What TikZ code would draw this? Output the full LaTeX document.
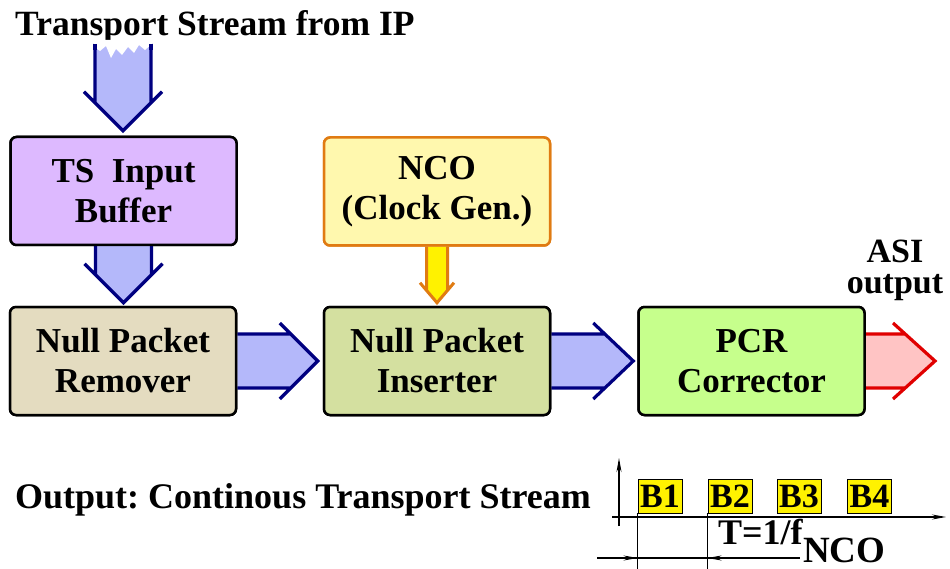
\documentclass[tikz,border=0pt]{standalone}
\usepackage{fontspec}
\setmainfont{Liberation Serif}
\usetikzlibrary{calc,arrows.meta}
\definecolor{navy}{HTML}{000080}
\definecolor{blfill}{HTML}{B4B8FA}
\definecolor{tsfill}{HTML}{DDB9FF}
\definecolor{remfill}{HTML}{E4DCC0}
\definecolor{ncofill}{HTML}{FFF8AE}
\definecolor{ncodraw}{HTML}{E07B12}
\definecolor{insfill}{HTML}{D4E0A0}
\definecolor{pcrfill}{HTML}{C6FF8C}
\definecolor{redfill}{HTML}{FFC4C4}
\definecolor{reddraw}{HTML}{E00000}
\newcommand\hfat[8]{%
  \path[fill=#6] let \p1=(#1), \p2=(#2), \n1={#5*#3/#4} in
    (\x1,{\y1+#3*1pt}) -- ({\x2-\n1*1pt},{\y1+#3*1pt}) -- (\x2,\y1) -- ({\x2-\n1*1pt},{\y1-#3*1pt}) -- (\x1,{\y1-#3*1pt}) -- cycle;
  \draw[draw=#7, line width=#8, line join=miter] let \p1=(#1), \p2=(#2), \n1={#5*#3/#4} in
    (\x1,{\y1+#3*1pt}) -- ({\x2-\n1*1pt},{\y1+#3*1pt})
    (\x1,{\y1-#3*1pt}) -- ({\x2-\n1*1pt},{\y1-#3*1pt})
    ({\x2-#5*1pt},{\y1+#4*1pt}) -- (\x2,\y1) -- ({\x2-#5*1pt},{\y1-#4*1pt});
}
\newcommand\vfat[8]{%
  \path[fill=#6] let \p1=(#1), \p2=(#2), \n1={#5*#3/#4} in
    ({\x1-#3*1pt},\y1) -- ({\x1-#3*1pt},{\y2+\n1*1pt}) -- (\x1,\y2) -- ({\x1+#3*1pt},{\y2+\n1*1pt}) -- ({\x1+#3*1pt},\y1) -- cycle;
  \draw[draw=#7, line width=#8, line join=miter] let \p1=(#1), \p2=(#2), \n1={#5*#3/#4} in
    ({\x1-#3*1pt},\y1) -- ({\x1-#3*1pt},{\y2+\n1*1pt})
    ({\x1+#3*1pt},\y1) -- ({\x1+#3*1pt},{\y2+\n1*1pt})
    ({\x1-#4*1pt},{\y2+#5*1pt}) -- (\x1,\y2) -- ({\x1+#4*1pt},{\y2+#5*1pt});
}
\begin{document}
\begin{tikzpicture}[x=1pt,y=-1pt,
  blk/.style={draw, line width=2.5pt, rounded corners=6pt, minimum width=226pt, minimum height=108pt,
    align=center, font=\fontsize{35}{40}\selectfont\bfseries, inner sep=0pt},
  lbl/.style={font=\fontsize{35.5}{40}\selectfont\bfseries, inner sep=0pt},
  bbox/.style={draw=black, line width=0.9pt, fill=yellow, minimum width=44pt, minimum height=34pt,
    inner sep=0pt, font=\fontsize{34}{36}\selectfont\bfseries},
  thin/.style={line width=1.1pt},
  tip/.style={-{Stealth[length=14pt,width=5pt]}}]
\useasboundingbox (0,0) rectangle (950,569);
\fill[white] (0,0) rectangle (950,569);

% box positions
\path (123.5,191) node[blk, fill=tsfill] (tsb) {TS\ \ Input\\Buffer};
\path (123,361) node[blk, fill=remfill] (rem) {Null Packet\\Remover};
\path (437,191.5) node[blk, fill=ncofill, draw=ncodraw] (nco) {NCO\\(Clock Gen.)};
\path (437,361) node[blk, fill=insfill] (ins) {Null Packet\\Inserter};
\path (751.5,361) node[blk, fill=pcrfill] (pcr) {PCR\\Corrector};

% title
\node[lbl, anchor=base west] (title) at (15,36) {Transport Stream from IP};
\coordinate (tsin) at (123,44);
\coordinate (asiout) at (935,361);

% block arrows
\vfat{tsin}{$(tsb.north)+(0,-5)$}{28}{39}{39}{blfill}{navy}{3.2pt}
\fill[white] (94,40) -- (94,47) -- (100,51) -- (106,46) -- (111,58) -- (116,49) -- (122,55) -- (128,47) -- (134,53) -- (139,45) -- (145,50) -- (152,44) -- (152,40) -- cycle;
\draw[navy, line width=3.2pt] (95,44) -- (95,50) (151,44) -- (151,50);
\vfat{tsb.south}{$(rem.north)+(0,-3)$}{28}{39}{39}{blfill}{navy}{3.2pt}
\vfat{nco.south}{$(ins.north)+(0,-3)$}{10.5}{17}{20}{yellow}{ncodraw}{3pt}
\hfat{rem.east}{$(ins.west)+(-5,0)$}{27}{38}{38}{blfill}{navy}{3.2pt}
\hfat{ins.east}{$(pcr.west)+(-4,0)$}{27}{38}{40}{blfill}{navy}{3.2pt}
\hfat{pcr.east}{asiout}{27}{38}{42}{redfill}{reddraw}{3.2pt}

% redraw boxes on top
\path (123.5,191) node[blk, fill=tsfill] {TS\ \ Input\\Buffer};
\path (123,361) node[blk, fill=remfill] {Null Packet\\Remover};
\path (437,191.5) node[blk, fill=ncofill, draw=ncodraw] {NCO\\(Clock Gen.)};
\path (437,361) node[blk, fill=insfill] {Null Packet\\Inserter};
\path (751.5,361) node[blk, fill=pcrfill] {PCR\\Corrector};

\node[lbl, anchor=base, font=\fontsize{34}{36}\selectfont\bfseries] (asi) at (895,262) {ASI};
\node[lbl, anchor=base, font=\fontsize{34}{36}\selectfont\bfseries] (asi2) at (895,294) {output};

% output timing
\node[lbl, anchor=base west, font=\fontsize{36}{40}\selectfont\bfseries] (outlbl) at (15,508) {Output:\ Continous Transport Stream};
\coordinate (vaxb) at (619,526);
\coordinate (vaxt) at (619,458);
\coordinate (haxl) at (612,517);
\coordinate (haxr) at (946,517);
\node[bbox] (b1) at (660,496) {B1};
\node[bbox] (b2) at (730,496) {B2};
\node[bbox] (b3) at (799,496) {B3};
\node[bbox] (b4) at (869.5,496) {B4};
\draw[thin, tip] (vaxb) -- (vaxt);
\draw[thin, tip] (haxl) -- (haxr);
\coordinate (dl) at (597,558);
\coordinate (dr) at (800,558);
\draw[thin] (b1.south west) -- ++(0,56);
\draw[thin] (b2.south west) -- ++(0,56);
\draw[thin] (dl) -- (dr);
\draw[thin, tip] (dl) -- (b1.south west |- dl);
\draw[thin, tip] ($(b2.south west |- dl)+(30,0)$) -- (b2.south west |- dl);
\node[lbl, anchor=base west, font=\fontsize{36}{38}\selectfont\bfseries] (tf) at (718,544) {T=1/f};
\node[lbl, anchor=base west, font=\fontsize{37}{38}\selectfont\bfseries] (fnco) at ($(tf.base east)+(0,18)$) {NCO};
\end{tikzpicture}
\end{document}
